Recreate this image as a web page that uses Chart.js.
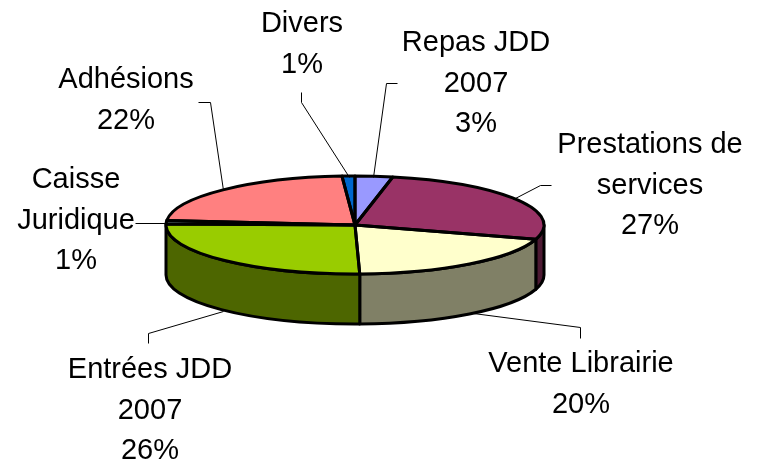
<!DOCTYPE html>
<html><head><meta charset="utf-8">
<style>html,body{margin:0;padding:0;background:#fff}canvas{display:block}</style>
<script src="https://cdn.jsdelivr.net/npm/chart.js@4"></script>
</head><body><canvas id="c" width="761" height="459"></canvas>
<script>
const categories = ['Repas JDD 2007','Prestations de services','Vente Librairie','Entrées JDD 2007','Caisse Juridique','Adhésions','Divers'];
const shares = [3.2,26.5,19.9,25.7,1.2,22.4,1.1];
const topColors = ['#9999FF','#993366','#FFFFCC','#99CC00','#CCFFFF','#FF8080','#0066CC'];
const sideColors = ['#4D4D80','#4D1A33','#808066','#4D6600','#668080','#804040','#003366'];
const labelLines = [['Repas JDD','2007','3%'],['Prestations de','services','27%'],['Vente Librairie','20%'],['Entrées JDD','2007','26%'],['Caisse','Juridique','1%'],['Adhésions','22%'],['Divers','1%']];
const labelCenters = [[476,43],[650,145],[581,364],[150,370],[76,180],[126,80],[302,24]];
const leaders = [
 [[397,83],[386,83],[373,177]],
 [[551,185],[540,185],[513,199]],
 [[473,313],[580,327],[580,338]],
 [[223,311],[148,333],[148,343]],
 [[135,223],[166,223]],
 [[198,102],[210,102],[223,190]],
 [[301,92],[301,102],[349,177]]
];
const SQUASH = 49/189, DEPTH = 50, LW = 3, LINE_H = 40.5;

const pie3d = {
 id:'pie3d',
 beforeDatasetDraw(chart){
  const ctx=chart.ctx, arcs=chart.getDatasetMeta(0).data;
  const a0=arcs[0], rx=a0.outerRadius, ry=rx*SQUASH;
  // side wall: only the front half of the ellipse (0..PI)
  arcs.forEach((arc,i)=>{
   const from=Math.max(arc.startAngle,0), to=Math.min(arc.endAngle,Math.PI);
   if(to<=from) return;
   ctx.save();
   ctx.beginPath();
   ctx.ellipse(arc.x,arc.y,rx,ry,0,from,to,false);
   ctx.ellipse(arc.x,arc.y+DEPTH,rx,ry,0,to,from,true);
   ctx.closePath();
   ctx.fillStyle=sideColors[i];
   ctx.fill();
   ctx.lineWidth=LW;ctx.strokeStyle='#000';ctx.lineJoin='round';
   ctx.stroke();
   ctx.restore();
  });
  ctx.save();
  ctx.translate(a0.x,a0.y);ctx.scale(1,SQUASH);ctx.translate(-a0.x,-a0.y);
 },
 afterDatasetDraw(chart){
  const ctx=chart.ctx, arcs=chart.getDatasetMeta(0).data;
  ctx.restore();
  const a0=arcs[0], rx=a0.outerRadius, ry=rx*SQUASH;
  ctx.save();
  ctx.lineWidth=LW;ctx.strokeStyle='#000';ctx.lineJoin='round';
  arcs.forEach(arc=>{
   ctx.beginPath();
   ctx.moveTo(arc.x,arc.y);
   ctx.ellipse(arc.x,arc.y,rx,ry,0,arc.startAngle,arc.endAngle,false);
   ctx.closePath();
   ctx.stroke();
  });
  ctx.restore();
  // leader lines and labels
  ctx.save();
  ctx.lineWidth=1;ctx.strokeStyle='#000';
  leaders.forEach(l=>{
   ctx.beginPath();
   l.forEach((p,i)=>i?ctx.lineTo(p[0]+.5,p[1]+.5):ctx.moveTo(p[0]+.5,p[1]+.5));
   ctx.stroke();
  });
  ctx.fillStyle='#000';ctx.font='29px "Liberation Sans"';ctx.textAlign='center';ctx.textBaseline='middle';
  labelLines.forEach((lines,i)=>{
   lines.forEach((t,j)=>ctx.fillText(t,labelCenters[i][0],labelCenters[i][1]+j*LINE_H));
  });
  ctx.restore();
 }
};

new Chart(document.getElementById('c'),{
 type:'pie',
 data:{labels:categories,datasets:[{data:shares,backgroundColor:topColors,borderWidth:0}]},
 options:{
  responsive:false,animation:false,
  rotation:0,
  layout:{padding:{left:166,right:217,top:36,bottom:45}},
  plugins:{legend:{display:false},tooltip:{enabled:false},title:{display:false}}
 },
 plugins:[pie3d]
});
</script></body></html>
